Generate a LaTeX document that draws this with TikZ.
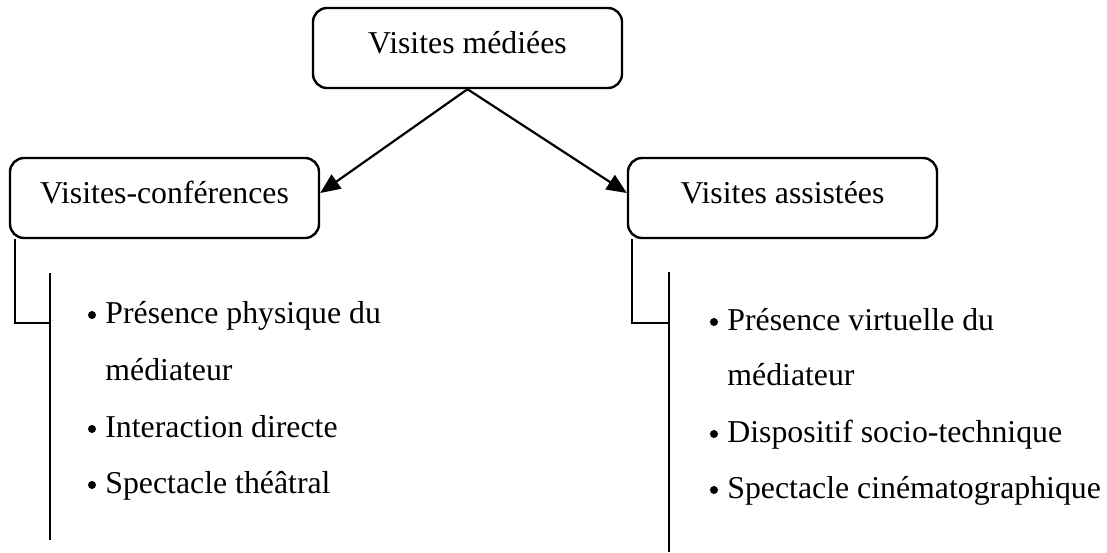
\documentclass[tikz,border=0pt]{standalone}
\usepackage{fontspec}
\setmainfont{Liberation Serif}
\usetikzlibrary{arrows.meta}
\begin{document}
\begin{tikzpicture}[x=0.5pt,y=-0.5pt,
  box/.style={draw,line width=1.2pt,rounded corners=7pt,minimum width=154.5pt,minimum height=40pt,
    text height=10pt,text depth=5pt,inner sep=0pt,font=\fontsize{15.9}{19}\selectfont},
  arr/.style={line width=1.1pt,-{Triangle[length=10pt,width=8.5pt]}},
  ln/.style={line width=1pt},
  item/.style={anchor=base west,inner sep=0pt,font=\fontsize{15.9}{19}\selectfont},
  dot/.style={fill=black}]
\useasboundingbox (0,0) rectangle (1107,552);
\node[box] (top) at (467.5,48) {Visites médiées};
\node[box] (left) at (164.5,198) {Visites-conférences};
\node[box] (right) at (782.5,198) {Visites assistées};
\draw[arr] (top.south) -- ([yshift=2.5pt]left.east);
\draw[arr] (top.south) -- ([yshift=2.5pt]right.west);
% left bracket
\coordinate (lj) at (50,323);
\coordinate (ltop) at (50,273);
\coordinate (lbot) at (50,540);
\draw[ln] ([xshift=3pt]left.south west) |- (lj);
\draw[ln] (ltop) -- (lbot);
% right bracket
\coordinate (rj) at (669,323);
\coordinate (rtop) at (669,272);
\coordinate (rbot) at (669,552);
\draw[ln] ([xshift=2.5pt]right.south west) |- (rj);
\draw[ln] (rtop) -- (rbot);
% left items
\node[item] (l1) at (105,323) {Présence physique du};
\node[item] (l2) at (105,380) {médiateur};
\node[item] (l3) at (105,437) {Interaction directe};
\node[item] (l4) at (105,493) {Spectacle théâtral};
\fill[dot] (92,315) circle[radius=2pt];
\fill[dot] (92,429) circle[radius=2pt];
\fill[dot] (92,485) circle[radius=2pt];
% right items
\node[item] (r1) at (727,330) {Présence virtuelle du};
\node[item] (r2) at (727,385) {médiateur};
\node[item] (r3) at (727,442) {Dispositif socio-technique};
\node[item] (r4) at (727,498) {Spectacle cinématographique};
\fill[dot] (714,322) circle[radius=2pt];
\fill[dot] (714,434) circle[radius=2pt];
\fill[dot] (714,490) circle[radius=2pt];
\end{tikzpicture}
\end{document}
